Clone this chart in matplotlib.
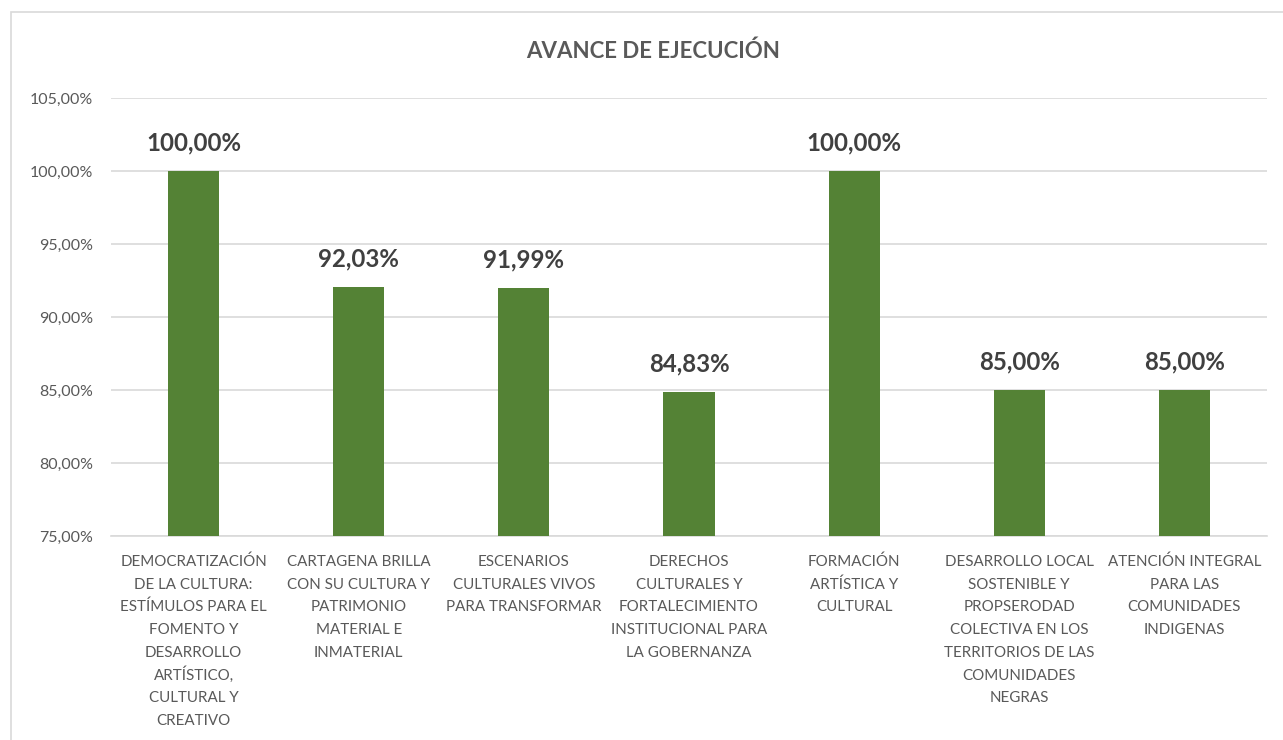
import numpy as np
import matplotlib.pyplot as plt
from matplotlib.patches import Rectangle

# Data
categorias = ['DEMOCRATIZACIÓN\nDE LA CULTURA:\nESTÍMULOS PARA EL\nFOMENTO Y\nDESARROLLO\nARTÍSTICO,\nCULTURAL Y\nCREATIVO',
              'CARTAGENA BRILLA\nCON SU CULTURA Y\nPATRIMONIO\nMATERIAL E\nINMATERIAL',
              'ESCENARIOS\nCULTURALES VIVOS\nPARA TRANSFORMAR',
              'DERECHOS\nCULTURALES Y\nFORTALECIMIENTO\nINSTITUCIONAL PARA\nLA GOBERNANZA',
              'FORMACIÓN\nARTÍSTICA Y\nCULTURAL',
              'DESARROLLO LOCAL\nSOSTENIBLE Y\nPROPSERODAD\nCOLECTIVA EN LOS\nTERRITORIOS DE LAS\nCOMUNIDADES\nNEGRAS',
              'ATENCIÓN INTEGRAL\nPARA LAS\nCOMUNIDADES\nINDIGENAS']
avance = [100.00, 92.03, 91.99, 84.83, 100.00, 85.00, 85.00]
yticks = [75, 80, 85, 90, 95, 100, 105]

plt.rcParams['font.family'] = ['Lato', 'DejaVu Sans']

fig = plt.figure(figsize=(12.83, 7.40), dpi=100)
ax = fig.add_axes([111/1283, 1-536/740, 1156/1283, 438/740])

# Chart border
fig.patches.append(Rectangle((11/1283, -0.5), 2, 0.5 + 1 - 12/740, transform=fig.transFigure,
                             fill=False, edgecolor='#d9d9d9', linewidth=1.2))

x = np.arange(len(avance))
ax.bar(x, avance, width=0.31, color='#548235', zorder=3)
ax.set_xlim(-0.5, len(avance) - 0.5)
ax.set_ylim(75, 105)
ax.set_yticks(yticks)
ax.set_yticklabels(['{:.2f}%'.format(v).replace('.', ',') for v in yticks], color='#595959', fontsize=11.5)
ax.yaxis.grid(True, color='#d9d9d9', linewidth=1.2, zorder=0)
ax.set_xticks(x)
ax.set_xticklabels([])
ax.tick_params(axis='both', length=0)
ax.tick_params(axis='y', pad=13)
for s in ['top', 'right', 'left']:
    ax.spines[s].set_visible(False)
ax.spines['bottom'].set_color('#d9d9d9')
ax.spines['bottom'].set_linewidth(1.2)

# category labels, one line at a time so the spacing stays even
for xi, cat in zip(x, categorias):
    for k, linea in enumerate(cat.split('\n')):
        ax.annotate(linea, (xi, 0), xycoords=ax.get_xaxis_transform(),
                    xytext=(0, -30 - 22.7*k), textcoords='offset pixels',
                    ha='center', va='baseline', fontsize=10.9, color='#595959', annotation_clip=False)

for xi, v in zip(x, avance):
    ax.annotate('{:.2f}%'.format(v).replace('.', ','), (xi, v), xytext=(0, 12), textcoords='offset points',
                ha='center', va='bottom', fontsize=17.3, fontweight='bold', color='#404040')

fig.text(653/1283, 1-51/740, 'AVANCE DE EJECUCIÓN', ha='center', va='center',
         fontsize=16, fontweight='bold', color='#595959')

fig.savefig('out.png', dpi=100)
